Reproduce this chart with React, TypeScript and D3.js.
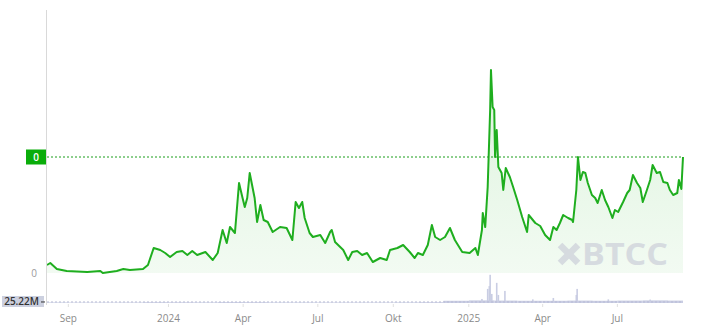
import React from "react";
import * as d3 from "d3";

const priceDates: string[] = [
  "2023-08-06","2023-08-10","2023-08-18","2023-08-30","2023-09-24","2023-10-10","2023-10-13","2023-10-30","2023-11-07","2023-11-15",
  "2023-12-01","2023-12-07","2023-12-14","2023-12-22","2023-12-28","2024-01-03","2024-01-11","2024-01-18","2024-01-24","2024-01-30",
  "2024-02-05","2024-02-15","2024-02-24","2024-03-01","2024-03-07","2024-03-12","2024-03-16","2024-03-22","2024-03-27","2024-03-31",
  "2024-04-03","2024-04-06","2024-04-09","2024-04-15","2024-04-18","2024-04-22","2024-04-26","2024-05-01","2024-05-07","2024-05-16",
  "2024-05-24","2024-05-31","2024-06-04","2024-06-08","2024-06-12","2024-06-15","2024-06-21","2024-06-25","2024-07-04","2024-07-10",
  "2024-07-16","2024-07-18","2024-07-22","2024-08-01","2024-08-07","2024-08-12","2024-08-18","2024-08-24","2024-08-30","2024-09-06",
  "2024-09-15","2024-09-23","2024-09-27","2024-10-06","2024-10-13","2024-10-21","2024-10-27","2024-10-31","2024-11-06","2024-11-12",
  "2024-11-17","2024-11-21","2024-11-27","2024-12-03","2024-12-09","2024-12-15","2024-12-24","2025-01-02","2025-01-09","2025-01-12",
  "2025-01-17","2025-01-18","2025-01-21","2025-01-24","2025-01-27","2025-01-28","2025-01-30","2025-02-01","2025-02-02","2025-02-04",
  "2025-02-06","2025-02-10","2025-02-12","2025-02-15","2025-02-20","2025-02-24","2025-03-01","2025-03-07","2025-03-13","2025-03-15",
  "2025-03-23","2025-03-29","2025-04-04","2025-04-10","2025-04-14","2025-04-18","2025-04-22","2025-04-26","2025-05-02","2025-05-07",
  "2025-05-08","2025-05-12","2025-05-14","2025-05-17","2025-05-20","2025-05-23","2025-05-26","2025-05-31","2025-06-04","2025-06-07",
  "2025-06-12","2025-06-16","2025-06-20","2025-06-25","2025-06-28","2025-07-02","2025-07-08","2025-07-13","2025-07-16","2025-07-20",
  "2025-07-25","2025-07-29","2025-08-01","2025-08-06","2025-08-10","2025-08-13","2025-08-18","2025-08-22","2025-08-26","2025-08-31",
  "2025-09-03","2025-09-07","2025-09-12","2025-09-14","2025-09-17","2025-09-19",
];

const priceValues: number[] = [
  0.008,0.010,0.004,0.002,0.001,0.002,0.000,0.002,0.004,0.003,
  0.004,0.008,0.025,0.023,0.020,0.016,0.021,0.022,0.018,0.022,
  0.018,0.021,0.013,0.020,0.043,0.030,0.046,0.040,0.090,0.076,
  0.066,0.075,0.100,0.075,0.051,0.068,0.053,0.051,0.041,0.046,
  0.045,0.033,0.071,0.065,0.071,0.055,0.040,0.036,0.038,0.030,
  0.041,0.043,0.031,0.023,0.013,0.021,0.022,0.018,0.020,0.011,
  0.015,0.013,0.023,0.025,0.028,0.021,0.015,0.020,0.018,0.028,
  0.048,0.036,0.033,0.036,0.045,0.033,0.021,0.020,0.025,0.018,
  0.043,0.060,0.046,0.086,0.163,0.203,0.166,0.163,0.116,0.143,
  0.106,0.100,0.083,0.105,0.096,0.086,0.073,0.056,0.041,0.058,
  0.050,0.047,0.038,0.033,0.046,0.043,0.050,0.058,0.055,0.053,
  0.051,0.083,0.116,0.093,0.101,0.100,0.090,0.078,0.075,0.070,
  0.083,0.073,0.066,0.055,0.063,0.061,0.071,0.080,0.083,0.098,
  0.090,0.085,0.071,0.083,0.093,0.108,0.100,0.101,0.091,0.090,
  0.083,0.078,0.080,0.093,0.084,0.116,
];

// monthly base volume (M)
const volumeMonths: string[] = [
  "2023-08-01","2023-09-01","2023-10-01","2023-11-01","2023-12-01","2024-01-01","2024-02-01","2024-03-01","2024-04-01",
  "2024-05-01","2024-06-01","2024-07-01","2024-08-01","2024-09-01","2024-10-01","2024-11-01","2024-12-01","2025-01-01",
  "2025-02-01","2025-03-01","2025-04-01","2025-05-01","2025-06-01","2025-07-01","2025-08-01","2025-09-01",
];
const volumeBase: number[] = [
  15,12,12,14,20,18,16,22,20,15,15,14,14,14,16,20,55,65,60,55,55,60,55,60,65,60,
];

// daily volume spikes (M)
const spikeDates: string[] = [
  "2025-01-17","2025-01-24","2025-01-26","2025-01-27","2025-01-29","2025-02-04","2025-02-06","2025-02-14",
  "2025-03-20","2025-04-14","2025-05-12","2025-05-13","2025-06-20","2025-08-10",
];
const spikeValues: number[] = [
  100,350,420,700,225,500,200,300,90,125,200,350,90,85,
];

const currentPriceLabel = "0";
const zeroLabel = "0";
const volumeLabel = "25.22M";
const volumeLevel = 25.22;

const xTickDates: string[] = [
  "2023-09-01","2024-01-01","2024-04-01","2024-07-01","2024-10-01","2025-01-01","2025-04-01","2025-07-01",
];
const xTickLabels: string[] = ["Sep", "2024", "Apr", "Jul", "Okt", "2025", "Apr", "Jul"];

const W = 719;
const H = 332;
const PLOT_LEFT = 47;
const PLOT_RIGHT = 683;
const PRICE_TOP = 10;
const PRICE_BOTTOM = 273;
const VOL_BOTTOM = 303;
const VOL_TOP = 274;

export default function App() {
  const parse = d3.utcParse("%Y-%m-%d");
  const data = priceDates.map((d, i) => ({ date: parse(d) as Date, value: priceValues[i] }));

  const x = d3
    .scaleUtc()
    .domain([parse("2023-08-06") as Date, parse("2025-09-19") as Date])
    .range([PLOT_LEFT, PLOT_RIGHT]);
  const y = d3.scaleLinear().domain([0, 0.263]).range([PRICE_BOTTOM, PRICE_TOP]);
  const yv = d3.scaleLinear().domain([0, 720]).range([VOL_BOTTOM, VOL_TOP]);

  const line = d3
    .line<{ date: Date; value: number }>()
    .x((d) => x(d.date))
    .y((d) => y(d.value))
    .curve(d3.curveLinear);
  const area = d3
    .area<{ date: Date; value: number }>()
    .x((d) => x(d.date))
    .y0(PRICE_BOTTOM)
    .y1((d) => y(d.value))
    .curve(d3.curveLinear);

  const last = data[data.length - 1];
  const lastY = y(last.value);

  const monthBars = volumeMonths.map((m, i) => {
    const start = parse(m) as Date;
    const end = d3.utcMonth.offset(start, 1);
    const x0 = Math.max(PLOT_LEFT, x(start));
    const x1 = Math.min(PLOT_RIGHT, x(end));
    return { x0, x1, v: volumeBase[i] };
  });

  const volY = yv(volumeLevel);

  return (
    <svg width={W} height={H} style={{ position: "absolute", left: 0, top: 0, fontFamily: "'Open Sans', 'Noto Sans', sans-serif" }}>
      <defs>
        <linearGradient id="fillGrad" x1="0" y1="0" x2="0" y2="1">
          <stop offset="0%" stopColor="#2bb52b" stopOpacity={0.16} />
          <stop offset="100%" stopColor="#2bb52b" stopOpacity={0.06} />
        </linearGradient>
      </defs>
      <rect x={0} y={0} width={W} height={H} fill="#ffffff" />

      {/* volume */}
      <g fill="#c9cde3">
        {monthBars.map((b, i) => (
          <rect key={"vb" + i} x={b.x0} y={yv(b.v)} width={Math.max(0, b.x1 - b.x0)} height={VOL_BOTTOM - yv(b.v)} />
        ))}
        {spikeDates.map((d, i) => {
          const xx = x(parse(d) as Date);
          return <rect key={"sp" + i} x={xx - 0.8} y={yv(spikeValues[i])} width={1.6} height={VOL_BOTTOM - yv(spikeValues[i])} />;
        })}
      </g>
      <line x1={PLOT_LEFT} x2={PLOT_RIGHT} y1={volY} y2={volY} stroke="#b8bcd4" strokeWidth={1} strokeDasharray="2,2" />

      {/* price area + line */}
      <path d={area(data) || ""} fill="url(#fillGrad)" />
      <path d={line(data) || ""} fill="none" stroke="#1fae1f" strokeWidth={2} strokeLinejoin="round" />

      {/* watermark */}
      <g opacity={0.8}>
        <g transform={`translate(569,254)`} stroke="#d0d4dc" strokeWidth={6.5} strokeLinecap="butt">
          <line x1={-9} y1={-9} x2={9} y2={9} />
          <line x1={9} y1={-9} x2={-9} y2={9} />
        </g>
        <text x={582} y={265} fontSize={31} fontWeight={700} fill="#d0d4dc" fontFamily="'Open Sans', sans-serif" textLength={86} lengthAdjust="spacingAndGlyphs">
          BTCC
        </text>
      </g>

      {/* current price line */}
      <line x1={PLOT_LEFT} x2={PLOT_RIGHT} y1={lastY} y2={lastY} stroke="#1a9e1a" strokeWidth={1} strokeDasharray="2,2" />

      {/* y axis line */}
      <line x1={46.5} x2={46.5} y1={PRICE_TOP} y2={VOL_BOTTOM + 2} stroke="#d9d9d9" strokeWidth={1} />

      {/* y labels */}
      <text x={37} y={y(0)} dy="0.35em" textAnchor="end" fontSize={10} fill="#9a9a9a">
        {zeroLabel}
      </text>
      <rect x={26} y={lastY - 7.5} width={20} height={15} fill="#0aad0a" />
      <text x={36} y={lastY} dy="0.36em" textAnchor="middle" fontSize={10} fontWeight={600} fill="#ffffff">
        {currentPriceLabel}
      </text>

      {/* volume label */}
      <rect x={2} y={volY - 6} width={42} height={11} fill="#ccd0df" />
      <text x={39} y={volY} dy="0.33em" textAnchor="end" fontSize={10} fill="#333" fontWeight={600}>
        {volumeLabel}
      </text>
      <line x1={41} x2={45} y1={volY} y2={volY} stroke="#333" strokeWidth={1} />

      {/* x ticks */}
      {xTickDates.map((d, i) => {
        const xx = x(parse(d) as Date);
        return (
          <g key={"xt" + i}>
            <line x1={xx} x2={xx} y1={VOL_BOTTOM + 1} y2={VOL_BOTTOM + 4} stroke="#e0e0e0" />
            <text x={xx} y={318} dy="0.35em" textAnchor="middle" fontSize={10} fill="#8a8a8a">
              {xTickLabels[i]}
            </text>
          </g>
        );
      })}
    </svg>
  );
}
